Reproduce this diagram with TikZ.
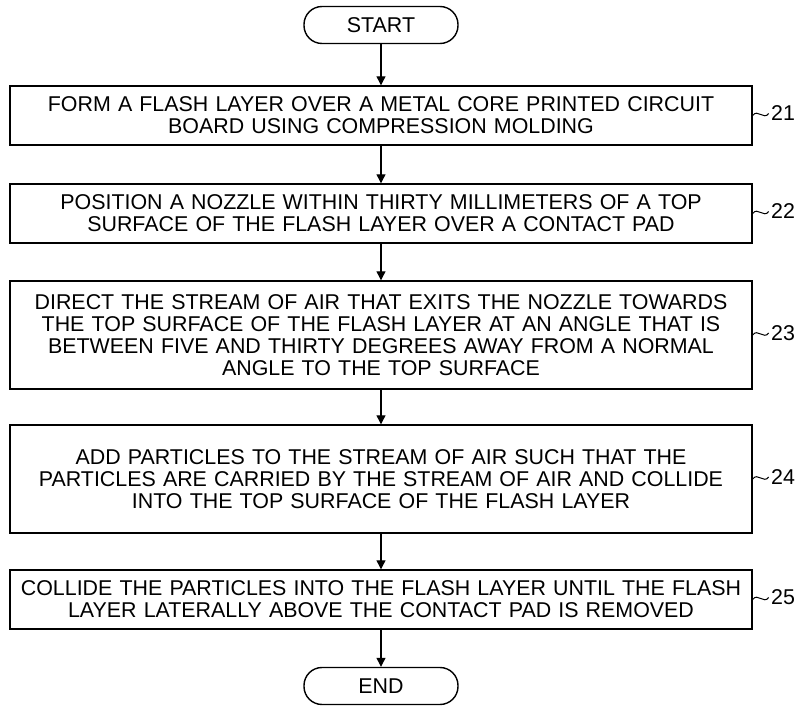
\documentclass[tikz,border=0pt]{standalone}
\usepackage{fontspec}
\setmainfont{Liberation Sans}
\usepackage{tikz}
\usetikzlibrary{positioning, arrows.meta}

\tikzset{
  stepbox/.style={draw, line width=0.7pt, text width=364pt, inner xsep=3.5pt,
    align=center, minimum height=29.5pt},
  termbox/.style={draw, line width=0.7pt, rounded corners=9pt,
    minimum width=77pt, minimum height=18.5pt},
  flow/.style={-{Triangle[length=4.5pt,width=4.5pt]}, line width=0.6pt},
  reflabel/.style={anchor=west, inner sep=1pt},
}

\begin{document}
\begin{tikzpicture}[x=0.5pt, y=-0.5pt, font=\fontsize{10.7}{11}\selectfont]
    \useasboundingbox (0,0) rectangle (800,706);

    % Start and end
    \node[termbox] (start) at (381,25) {START};
    \node[termbox] (end) at (381,686) {END};

    % Steps
    \node[stepbox] (s21) at (381,115.5) {FORM A FLASH LAYER OVER A METAL CORE PRINTED CIRCUIT\\BOARD USING COMPRESSION MOLDING};
    \node[stepbox] (s22) at (381,213.5) {POSITION A NOZZLE WITHIN THIRTY MILLIMETERS OF A TOP\\SURFACE OF THE FLASH LAYER OVER A CONTACT PAD};
    \node[stepbox, minimum height=54pt] (s23) at (381,335) {DIRECT THE STREAM OF AIR THAT EXITS THE NOZZLE TOWARDS\\THE TOP SURFACE OF THE FLASH LAYER AT AN ANGLE THAT IS\\BETWEEN FIVE AND THIRTY DEGREES AWAY FROM A NORMAL\\ANGLE TO THE TOP SURFACE};
    \node[stepbox, minimum height=54pt] (s24) at (381,479) {ADD PARTICLES TO THE STREAM OF AIR SUCH THAT THE\\PARTICLES ARE CARRIED BY THE STREAM OF AIR AND COLLIDE\\INTO THE TOP SURFACE OF THE FLASH LAYER};
    \node[stepbox] (s25) at (381,599.5) {COLLIDE THE PARTICLES INTO THE FLASH LAYER UNTIL THE FLASH\\LAYER LATERALLY ABOVE THE CONTACT PAD IS REMOVED};

    % Arrows
    \draw[flow] (start) -- (s21);
    \draw[flow] (s21) -- (s22);
    \draw[flow] (s22) -- (s23);
    \draw[flow] (s23) -- (s24);
    \draw[flow] (s24) -- (s25);
    \draw[flow] (s25) -- (end);

    % Reference numerals
    \foreach \n in {21,...,25} {
        \node[reflabel] (l\n) at ([xshift=8pt, yshift=1pt]s\n.east) {\n};
        \draw[line width=0.5pt] (s\n.east) .. controls +(5,-7) and +(-5,7) .. (l\n.west);
    }
\end{tikzpicture}
\end{document}
